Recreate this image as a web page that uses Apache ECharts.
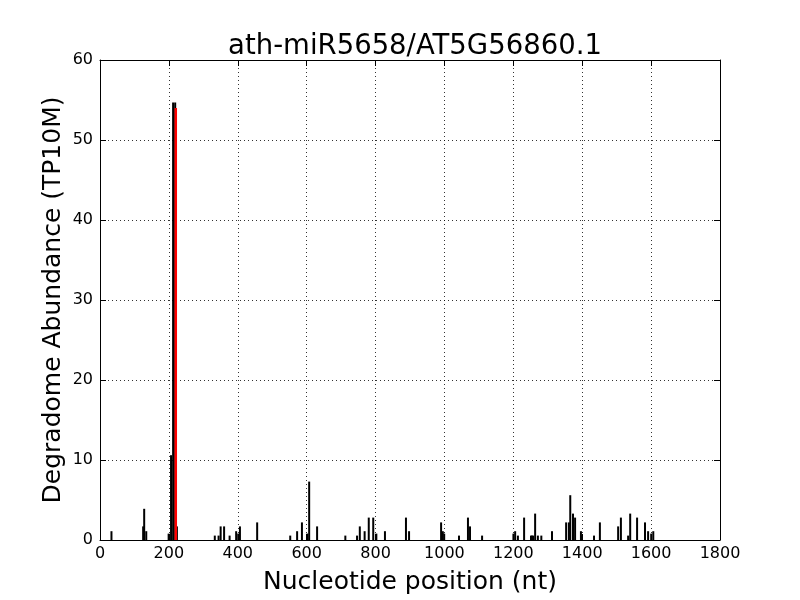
<!DOCTYPE html>
<html>
<head>
<meta charset="utf-8">
<script src="https://cdn.jsdelivr.net/npm/echarts@6/dist/echarts.min.js"></script>
<style>html,body{margin:0;padding:0;background:#fff;}#c{width:800px;height:600px;}</style>
</head>
<body>
<div id="c"></div>
<script>
const titleText = 'ath-miR5658/AT5G56860.1';
const xLabel = 'Nucleotide position (nt)';
const yLabel = 'Degradome Abundance (TP10M)';

const positions = [34,126,129,135,200,207,213,219,224,334,345,351,361,377,396,402,407,457,553,573,587,603,608,631,713,747,755,769,781,794,803,828,889,898,991,996,1000,1043,1069,1075,1110,1201,1206,1214,1232,1252,1255,1258,1264,1272,1282,1313,1354,1362,1366,1374,1380,1397,1400,1435,1452,1505,1513,1534,1540,1560,1583,1592,1601,1607];
const abundance = [1.1,1.7,3.9,1.1,0.8,10.6,54.7,54.7,1.7,0.55,0.55,1.7,1.7,0.55,1.1,0.8,1.7,2.2,0.55,1.1,2.2,0.8,7.3,1.7,0.55,0.55,1.7,1.1,2.8,2.8,0.8,1.1,2.8,1.1,2.2,1.1,0.8,0.55,2.8,1.7,0.55,0.8,1.1,0.55,2.8,0.55,0.55,0.55,3.3,0.55,0.55,1.1,2.2,2.2,5.6,3.3,2.8,1.1,0.6,0.55,2.2,1.7,2.8,0.55,3.3,2.8,2.2,1.1,0.8,1.1];

const sitePositions = [220];
const siteAbundance = [54.0];

const xTicks = [0,200,400,600,800,1000,1200,1400,1600,1800];
const yTicks = [0,10,20,30,40,50,60];

const chart = echarts.init(document.getElementById('c'), null, {renderer:'canvas'});
const font = 'DejaVu Sans';
const gridLine = {show:true, lineStyle:{color:'#000', type:[1,3], width:1, opacity:0.8}};
const tick = {show:true, inside:true, length:6, lineStyle:{color:'#000', width:1}};
const axisLine = {show:true, onZero:false, lineStyle:{color:'#000', width:1}};

chart.setOption({
  animation:false,
  backgroundColor:'#fff',
  title:{text:titleText, left:410, textAlign:'center', top:28, textStyle:{fontFamily:font, fontSize:27.5, fontWeight:'normal', color:'#000'}},
  grid:{left:100, right:80, top:60, bottom:60, show:false},
  xAxis:[
    {type:'value', min:xTicks[0], max:xTicks[xTicks.length-1], interval:200, position:'bottom',
     name:xLabel, nameLocation:'middle', nameGap:30, nameMoveOverlap:false,
     nameTextStyle:{fontFamily:font, fontSize:25, color:'#000'},
     axisLine:axisLine, axisTick:tick,
     axisLabel:{fontFamily:font, fontSize:16, color:'#000', margin:6, formatter:v=>String(v)},
     splitLine:gridLine},
    {type:'value', min:xTicks[0], max:xTicks[xTicks.length-1], interval:200, position:'top',
     axisLine:axisLine, axisTick:tick, axisLabel:{show:false}, splitLine:{show:false}}
  ],
  yAxis:[
    {type:'value', min:yTicks[0], max:yTicks[yTicks.length-1], interval:10, position:'left',
     name:yLabel, nameLocation:'middle', nameGap:34, nameMoveOverlap:false,
     nameTextStyle:{fontFamily:font, fontSize:25, color:'#000'},
     axisLine:axisLine, axisTick:tick,
     axisLabel:{fontFamily:font, fontSize:16, color:'#000', margin:7, formatter:v=>String(v)},
     splitLine:gridLine},
    {type:'value', min:yTicks[0], max:yTicks[yTicks.length-1], interval:10, position:'right',
     axisLine:axisLine, axisTick:tick, axisLabel:{show:false}, splitLine:{show:false}}
  ],
  series:[
    {type:'bar', xAxisIndex:0, yAxisIndex:0, barWidth:2, barGap:'-100%',
     itemStyle:{color:'#000'},
     data:positions.map((p,i)=>[p, abundance[i]])},
    {type:'bar', xAxisIndex:0, yAxisIndex:0, barWidth:2.5, barGap:'-100%',
     itemStyle:{color:'#ff0000'},
     data:sitePositions.map((p,i)=>[p, siteAbundance[i]])}
  ]
});
</script>
</body>
</html>
